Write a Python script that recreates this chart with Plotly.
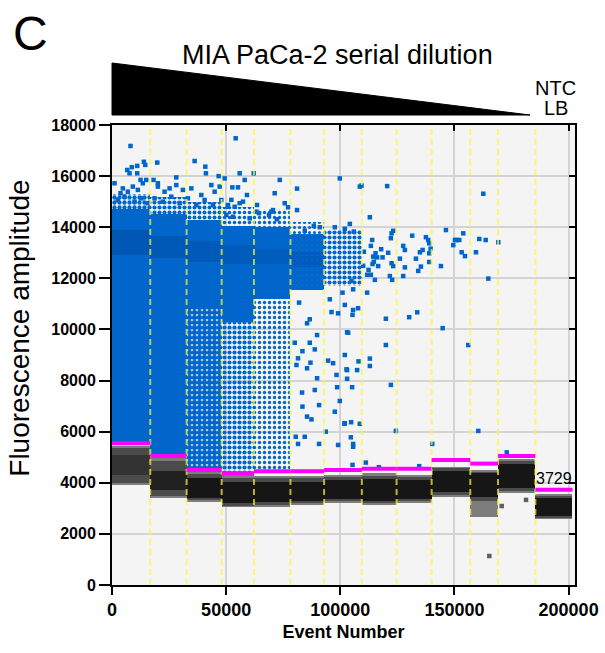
import plotly.graph_objects as go

# ---------------- data ----------------
well_edges = [0, 16750, 32680, 48030, 62190, 78160, 92900, 109430, 124650,
              140000, 156930, 169080, 185440, 201700]
thresholds = [5545, 5050, 4500, 4370, 4450, 4450, 4500, 4550, 4550, 4890, 4750, 5050, 3729]

# negative droplet band (grey/black)
neg_outer_lo = [3910, 3390, 3260, 3040, 3060, 3130, 3200, 3130, 3200, 3460, 2670, 3590, 2570]
neg_outer_hi = [5440, 4980, 4430, 4300, 4260, 4260, 4300, 4370, 4300, 4630, 4500, 4920, 3560]
neg_mid_lo = [4000, 3500, 3330, 3110, 3130, 3200, 3270, 3200, 3270, 3540, 3300, 3680, 2630]
neg_mid_hi = [5350, 4850, 4330, 4200, 4170, 4170, 4210, 4270, 4210, 4560, 4440, 4850, 3500]
neg_core_lo = [4300, 3700, 3420, 3200, 3230, 3290, 3360, 3290, 3360, 3650, 3450, 3800, 2700]
neg_core_hi = [5100, 4450, 4180, 4050, 4050, 4050, 4100, 4150, 4100, 4450, 4370, 4720, 3400]
neg_core_op = [0.45, 0.8, 1, 1, 1, 1, 1, 1, 1, 1, 1, 1, 1]

# positive droplet cloud (blue)
pos_dense_lo = [5545, 8500, 10800, 10300, 11200, 11550, 11700, 0, 0, 0, 0, 0, 0]
pos_dense_hi = [14700, 14500, 14300, 14050, 14000, 13750, 13900, 0, 0, 0, 0, 0, 0]
pos_dense_density = [1, 1, 1, 1, 1, 0.92, 0.55, 0, 0, 0, 0, 0, 0]
pos_lower_density = [0, 0.95, 0.8, 0.55, 0.35, 0, 0, 0, 0, 0, 0, 0, 0]
pos_ragged_hi = [15300, 15200, 15000, 14800, 14700, 14200, 0, 0, 0, 0, 0, 0, 0]
pos_ragged_density = [0.6, 0.55, 0.5, 0.4, 0.35, 0.3, 0, 0, 0, 0, 0, 0, 0]
pos_core_lo = [12900, 12800, 12650, 12550, 12550, 12450, 0, 0, 0, 0, 0, 0, 0]
pos_core_hi = [13900, 13650, 13450, 13300, 13150, 13050, 0, 0, 0, 0, 0, 0, 0]
pos_core_op = [0.26, 0.22, 0.2, 0.18, 0.16, 0.14, 0, 0, 0, 0, 0, 0, 0]

# individually visible positive droplets (event number, amplitude)
sparse_event = [
    8100, 6670, 8680, 11050, 13950, 14560, 7680, 11050, 19830, 36190, 40880, 41140, 46710,
    54170, 55920, 62060, 49340, 58120, 73470, 99780, 18200, 20090, 28160, 12500, 52720,
    55180, 59120, 71270, 81050, 81050, 75660, 77110, 63510, 70530, 69830, 52280, 50790,
    53730, 55920, 57370, 50090, 52980, 60310, 63250, 64390, 68770, 72280, 88380, 91010,
    97590, 101980, 84430,
    1100, 4740, 3730, 6930, 9120, 11320, 13510, 15000, 20090, 23030, 25220, 28160, 31050,
    34740, 39120, 43510, 44960, 47150,
    2540, 5480, 9870, 12800, 15700, 18640, 22280, 25960, 29600, 33250, 36930, 40570, 44210,
    47890, 50790,
    112940, 104170, 105920, 122460, 123160, 122150, 131490, 137500, 138510, 138950, 146270,
    153860, 150970, 150220, 152110, 149480, 160880, 163690, 169210, 113950, 113380, 117900,
    120970, 127550, 128290, 136050, 134870, 139560, 138950, 153160, 154610, 159430, 115440,
    114390, 116140, 118510, 126100, 122460, 123160, 133120, 138950, 144080, 135310, 134120,
    128290, 116580, 114690, 114120, 112370, 111760, 113380, 115130, 121710, 122720, 127550,
    164830, 110000, 110310, 104910, 105620, 111760, 100970, 101980, 107810, 105620, 105350,
    119960, 130180, 133690, 144830, 102980, 119960, 156050, 101980, 107980, 112940, 112940,
    102980, 107370, 102980, 105180, 122150, 99780, 101840, 104740, 108550, 124340, 160440,
    104610, 105620, 105620, 140260, 105350, 111190, 116890, 134560, 172900, 108550, 109300,
    120530, 162630,
    81930, 86620, 85440, 89830, 86620, 80050, 83420, 88820, 81490, 86930, 85440, 80790,
    89830, 83250, 88820, 85440, 87370, 83420, 90700, 80480, 84430, 90700, 81490,
    95400, 99040, 96140, 103420, 94650, 96840, 102720, 98330, 98600, 97590, 101980, 99040,
    93640,
]
sparse_amp = [
    17180, 16240, 16350, 16400, 16560, 16440, 16110, 16110, 16530, 16590, 16370, 16110, 16000,
    17480, 16110, 16110, 15910, 15850, 15850, 15910, 15850, 15720, 15950, 15850, 15560,
    15560, 15260, 15330, 15510, 14670, 14940, 14780, 14870, 14670, 14610, 15070, 14870,
    14800, 14940, 15000, 14480, 14410, 14350, 14610, 14550, 14480, 14310, 14050, 14000,
    14000, 13940, 13860,
    15720, 15520, 15330, 15390, 15590, 15460, 15720, 15850, 15590, 15390, 15520, 15650, 15460,
    15520, 15260, 15650, 15390, 15590,
    15065, 15195, 15000, 15130, 14940, 15130, 15000, 15195, 14940, 15130, 14870, 15065, 14870,
    15065, 14800,
    14390, 14130, 13830, 13760, 13860, 13570, 13670, 13610, 13500, 13370, 13890,
    13760, 13500, 13500, 13500, 13300, 13540, 13500, 13410, 13500, 13270, 13140,
    13000, 13270, 13110, 13110, 13020, 13160, 12980, 13020, 12870, 13020, 12980,
    12850, 12820, 12820, 12770, 12590, 12480, 12770, 12640, 12480, 12460, 12290,
    12430, 12480, 12650, 12560, 12330, 12140, 12140, 11940, 12090, 11940, 12090,
    11990, 12490, 13040, 11900, 11570, 11440, 11440, 10960, 10830, 10760, 10570,
    10420, 10480, 10670, 10050, 9890, 9390, 9390, 9000, 8750, 8860, 8570,
    8410, 8410, 8070, 7740, 7830, 7200, 6310, 6370, 6310, 6030, 6030,
    5780, 5520, 5410, 5520, 4700, 4790, 4610, 4650, 5190, 15590, 15630,
    15610, 15310,
    11050, 10400, 10240, 9780, 9480, 9480, 9150, 9220, 8870, 8700, 8480, 8610,
    8090, 7530, 7630, 6590, 6480, 6980, 7040, 5800, 5800, 5520, 5520,
    11180, 10630, 10680, 9870, 8780, 8680, 8440, 8220, 7740, 6780, 6330, 5480,
    6000,
]

# individually visible negative droplets
neg_out_event = [165260, 181360, 170700]
neg_out_amp = [1135, 3330, 3090]

x_ticks = [0, 50000, 100000, 150000, 200000]
y_ticks = list(range(0, 18001, 2000))

# ---------------- styling ----------------
BLUE = 'rgb(0,102,204)'
FONT = 'Arial, Liberation Sans, sans-serif'

centers = [(a + b) / 2 for a, b in zip(well_edges[:-1], well_edges[1:])]
widths = [b - a for a, b in zip(well_edges[:-1], well_edges[1:])]


def band(lo, hi, color, op, density=None):
    on = density if density is not None else op
    h = [max(0, b - a) if o > 0 else 0 for a, b, o in zip(lo, hi, on)]
    marker = dict(color=color, opacity=op, line=dict(width=0))
    if density is not None:
        marker['pattern'] = dict(shape=['.' if d < 1 else '' for d in density], size=5,
                                 solidity=[min(max(d, 0.01), 1) for d in density],
                                 fgcolor=color, bgcolor='rgba(0,0,0,0)', fillmode='replace')
    return go.Bar(x=centers, y=h, base=lo, width=widths, marker=marker,
                  hoverinfo='skip', showlegend=False)


fig = go.Figure()

# negative clusters
fig.add_trace(band(neg_outer_lo, neg_outer_hi, 'rgb(125,125,125)', [1] * 13))
fig.add_trace(band(neg_mid_lo, neg_mid_hi, 'rgb(75,75,75)', [1] * 13))
fig.add_trace(band(neg_core_lo, neg_core_hi, 'rgb(22,22,22)', neg_core_op))

# positive clusters
fig.add_trace(band(thresholds, pos_dense_lo, BLUE, [1] * 13, pos_lower_density))
fig.add_trace(band(pos_dense_lo, pos_dense_hi, BLUE, [1] * 13, pos_dense_density))
fig.add_trace(band(pos_dense_hi, pos_ragged_hi, BLUE, [1] * 13, pos_ragged_density))
fig.add_trace(band(pos_core_lo, pos_core_hi, 'rgb(0,45,110)', pos_core_op))

# individual droplets
fig.add_trace(go.Scatter(x=sparse_event, y=sparse_amp, mode='markers',
                         marker=dict(symbol='square', size=4.5, color=BLUE, line=dict(width=0)),
                         hoverinfo='skip', showlegend=False))
fig.add_trace(go.Scatter(x=neg_out_event, y=neg_out_amp, mode='markers',
                         marker=dict(symbol='square', size=4.5, color='rgb(95,95,95)', line=dict(width=0)),
                         hoverinfo='skip', showlegend=False))

# well separators (yellow dashed)
vx, vy = [], []
for e in well_edges[1:-1]:
    vx += [e, e, None]
    vy += [0, 18000, None]
fig.add_trace(go.Scatter(x=vx, y=vy, mode='lines',
                         line=dict(color='rgba(250,250,60,0.7)', width=2, dash='6px,4px'),
                         hoverinfo='skip', showlegend=False))

# thresholds (magenta)
tx, ty = [], []
for i, t in enumerate(thresholds):
    tx += [well_edges[i], well_edges[i + 1], None]
    ty += [t, t, None]
fig.add_trace(go.Scatter(x=tx, y=ty, mode='lines',
                         line=dict(color='#ff00ff', width=4),
                         hoverinfo='skip', showlegend=False))

# dummy trace for inner ticks on top/right axes
fig.add_trace(go.Scatter(x=[0], y=[0], xaxis='x2', yaxis='y2', mode='markers',
                         marker=dict(opacity=0), hoverinfo='skip', showlegend=False))

fig.add_annotation(x=centers[-1], y=thresholds[-1], xref='x', yref='y',
                   text=str(thresholds[-1]), showarrow=False, yanchor='bottom', yshift=1,
                   font=dict(family=FONT, size=16, color='black'))

# header decorations
fig.add_shape(type='path', xref='paper', yref='paper',
              path='M 0,1.0217 L 0,1.1348 L 0.903,1.0217 Z',
              fillcolor='black', line=dict(color='black', width=1))
fig.add_annotation(x=0.488, y=1.152, xref='paper', yref='paper', text='MIA PaCa-2 serial dilution',
                   xanchor='center', yanchor='middle', showarrow=False,
                   font=dict(family=FONT, size=27, color='black'))
fig.add_annotation(x=-0.177, y=1.200, xref='paper', yref='paper', text='C',
                   xanchor='center', yanchor='middle', showarrow=False,
                   font=dict(family=FONT, size=48, color='black'))
fig.add_annotation(x=0.958, y=1.080, xref='paper', yref='paper', text='NTC',
                   xanchor='center', yanchor='middle', showarrow=False,
                   font=dict(family=FONT, size=20, color='black'))
fig.add_annotation(x=0.958, y=1.037, xref='paper', yref='paper', text='LB',
                   xanchor='center', yanchor='middle', showarrow=False,
                   font=dict(family=FONT, size=20, color='black'))
fig.add_annotation(x=-0.199, y=0.559, xref='paper', yref='paper', text='Fluorescence amplitude',
                   textangle=-90, xanchor='center', yanchor='middle', showarrow=False,
                   font=dict(family=FONT, size=28, color='black'))

fig.update_layout(
    width=605, height=653,
    margin=dict(l=112, r=30, t=125, b=68),
    paper_bgcolor='white', plot_bgcolor='rgb(244,244,244)',
    barmode='overlay', bargap=0, showlegend=False,
    xaxis=dict(range=[0, 202800], tickvals=x_ticks, ticktext=[str(v) for v in x_ticks],
               automargin=False,
               showgrid=True, gridcolor='rgb(212,212,212)', gridwidth=1.5, zeroline=False,
               showline=True, linecolor='black', linewidth=1.5, mirror=True,
               ticks='outside', ticklen=8, tickwidth=1.5, tickcolor='black',
               tickfont=dict(family=FONT, size=18, color='black', weight='bold'),
               title=dict(text='Event Number', standoff=6,
                          font=dict(family=FONT, size=18, color='black', weight='bold'))),
    yaxis=dict(range=[0, 18000], tickvals=y_ticks, ticktext=[str(v) for v in y_ticks],
               automargin=False,
               showgrid=True, gridcolor='rgb(212,212,212)', gridwidth=1.5, zeroline=False,
               showline=True, linecolor='black', linewidth=2, mirror=True,
               ticks='outside', ticklen=11, tickwidth=2, tickcolor='black',
               tickfont=dict(family=FONT, size=16, color='black', weight='bold')),
    xaxis2=dict(overlaying='x', side='top', anchor='y2', range=[0, 202800], tickvals=x_ticks,
                showticklabels=False, showgrid=False, zeroline=False, showline=False,
                automargin=False,
                ticks='inside', ticklen=6, tickwidth=1.5, tickcolor='black'),
    yaxis2=dict(overlaying='y', side='right', anchor='x2', range=[0, 18000], tickvals=y_ticks,
                showticklabels=False, showgrid=False, zeroline=False, showline=False,
                automargin=False,
                ticks='inside', ticklen=6, tickwidth=1.5, tickcolor='black'),
)

fig.write_html('out.html')
